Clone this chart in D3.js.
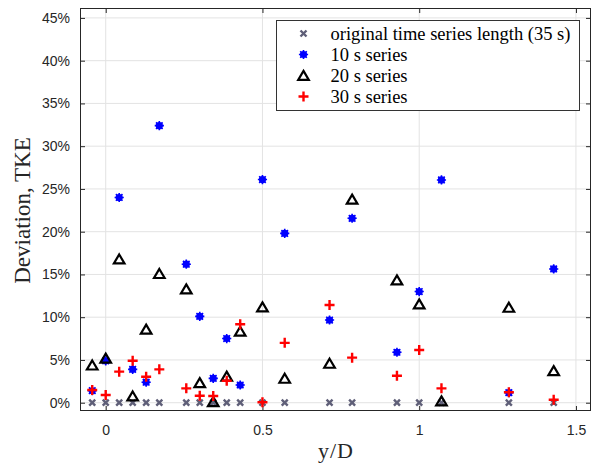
<!DOCTYPE html>
<html>
<head>
<meta charset="utf-8">
<script src="https://cdn.jsdelivr.net/npm/d3@7"></script>
<style>
  html, body { margin: 0; padding: 0; background: #fff; }
  svg { display: block; }
</style>
</head>
<body>
<svg id="chart" width="598" height="466"></svg>
<script>
// Measurement positions y/D
const positions = [-0.043, 0, 0.043, 0.086, 0.129, 0.171, 0.257, 0.3, 0.343, 0.386,
                   0.429, 0.5, 0.571, 0.714, 0.786, 0.929, 1.0, 1.071, 1.286, 1.429];
// TKE deviation (%) per series length
const original35s = [0, 0, 0, 0, 0, 0, 0, 0, 0, 0, 0, 0, 0, 0, 0, 0, 0, 0, 0, 0];
const series10s = [1.4, 4.9, 24.0, 3.9, 2.4, 32.4, 16.2, 10.1, 2.85, 7.5,
                   2.07, 26.1, 19.8, 9.67, 21.57, 5.9, 13.0, 26.05, 1.17, 15.64];
const series20s = [4.4, 5.2, 16.8, 0.78, 8.6, 15.1, 13.3, 2.34, 0.12, 3.1,
                   8.35, 11.2, 2.85, 4.6, 23.8, 14.35, 11.54, 0.2, 11.15, 3.74];
const series30s = [1.49, 0.9, 3.63, 4.9, 3.04, 3.9, 1.68, 0.82, 0.78, 2.57,
                   9.17, 0.05, 7.0, 11.43, 5.27, 3.16, 6.16, 1.68, 1.22, 0.35];
const xTicks = [0, 0.5, 1, 1.5];
const yTicks = [0, 5, 10, 15, 20, 25, 30, 35, 40, 45];
const legendLabels = ["original time series length (35 s)", "10 s series", "20 s series", "30 s series"];

const svg = d3.select("#chart");
const L = 80, R = 591, T = 8, B = 411;
const x = d3.scaleLinear().domain([-0.082, 1.548]).range([L, R]);
const y = d3.scaleLinear().domain([-0.97, 46.16]).range([B, T]);

const axisColor = "#262626";
const gridColor = "#e3e3e3";
const tickFont = "'Liberation Sans', Arial, sans-serif";
const serifFont = "'Liberation Serif', 'Times New Roman', serif";

// grid
const grid = svg.append("g");
grid.selectAll("line.gx").data(xTicks).join("line")
  .attr("x1", d => x(d)).attr("x2", d => x(d)).attr("y1", T).attr("y2", B)
  .attr("stroke", gridColor).attr("stroke-width", 1);
grid.selectAll("line.gy").data(yTicks).join("line")
  .attr("y1", d => y(d)).attr("y2", d => y(d)).attr("x1", L).attr("x2", R)
  .attr("stroke", gridColor).attr("stroke-width", 1);

// axes with inward ticks
const tickLen = 5;
const xAxisB = d3.axisBottom(x).tickValues(xTicks).tickSize(-tickLen).tickPadding(14)
  .tickFormat(d3.format("~g"));
const xAxisT = d3.axisTop(x).tickValues(xTicks).tickSize(-tickLen).tickFormat("");
const yAxisL = d3.axisLeft(y).tickValues(yTicks).tickSize(-tickLen).tickPadding(10)
  .tickFormat(d => d + "%");
const yAxisR = d3.axisRight(y).tickValues(yTicks).tickSize(-tickLen).tickFormat("");

function styleAxis(g) {
  g.select(".domain").remove();
  g.selectAll("line").attr("stroke", axisColor);
  g.selectAll("text").attr("fill", axisColor)
    .style("font-family", tickFont).style("font-size", "14px");
}
svg.append("g").attr("transform", `translate(0,${B})`).call(xAxisB).call(styleAxis);
svg.append("g").attr("transform", `translate(0,${T})`).call(xAxisT).call(styleAxis);
svg.append("g").attr("transform", `translate(${L},0)`).call(yAxisL).call(styleAxis);
svg.append("g").attr("transform", `translate(${R},0)`).call(yAxisR).call(styleAxis);

svg.append("rect").attr("x", L + 0.5).attr("y", T + 0.5)
  .attr("width", R - L - 1).attr("height", B - T - 1)
  .attr("fill", "none").attr("stroke", axisColor).attr("stroke-width", 1);

// marker shapes
const markers = {
  cross: (g) => g.append("path").attr("d", "M-3,-3L3,3M-3,3L3,-3")
    .attr("stroke", "#5f5f78").attr("stroke-width", 2.4).attr("fill", "none"),
  star: (g) => {
    g.append("circle").attr("r", 3.6).attr("fill", "#0000ff");
    g.append("path").attr("d", "M-4.6,0L4.6,0M0,-4.6L0,4.6M-3.3,-3.3L3.3,3.3M-3.3,3.3L3.3,-3.3")
      .attr("stroke", "#0000ff").attr("stroke-width", 1.6).attr("fill", "none");
  },
  tri: (g) => g.append("path").attr("d", "M0,-4.6L5.3,4.4L-5.3,4.4Z")
    .attr("stroke", "#000").attr("stroke-width", 2.2).attr("fill", "none")
    .attr("stroke-linejoin", "miter"),
  plus: (g) => g.append("path").attr("d", "M-5,0L5,0M0,-5L0,5")
    .attr("stroke", "#ff0000").attr("stroke-width", 2.4).attr("fill", "none")
};

const seriesList = [
  { values: original35s, marker: "cross" },
  { values: series10s, marker: "star" },
  { values: series20s, marker: "tri" },
  { values: series30s, marker: "plus" }
];

const plot = svg.append("g");
seriesList.forEach(s => {
  const pts = positions.map((p, i) => ({ px: p, v: s.values[i] }));
  plot.selectAll(null).data(pts).join("g")
    .attr("transform", d => `translate(${x(d.px)},${y(d.v)})`)
    .each(function () { markers[s.marker](d3.select(this)); });
});

// legend
const lg = svg.append("g");
lg.append("rect").attr("x", 276.5).attr("y", 20.5).attr("width", 303).attr("height", 90)
  .attr("fill", "#fff").attr("stroke", "#333").attr("stroke-width", 1);
legendLabels.forEach((label, i) => {
  const ry = 33.5 + i * 21;
  const m = lg.append("g").attr("transform", `translate(303.5,${ry})`);
  markers[seriesList[i].marker](m);
  lg.append("text").attr("x", 330.5).attr("y", ry).attr("dy", "0.35em")
    .attr("fill", "#000").style("font-family", serifFont).style("font-size", "18.5px")
    .text(label);
});

// axis titles
svg.append("text").attr("x", 336).attr("y", 458).attr("text-anchor", "middle")
  .attr("fill", axisColor).style("font-family", serifFont).style("font-size", "22px")
  .style("letter-spacing", "1px")
  .text("y/D");
svg.append("text").attr("transform", `translate(30,210.5) rotate(-90)`)
  .attr("text-anchor", "middle").attr("fill", axisColor)
  .style("font-family", serifFont).style("font-size", "23px")
  .text("Deviation, TKE");
</script>
</body>
</html>
